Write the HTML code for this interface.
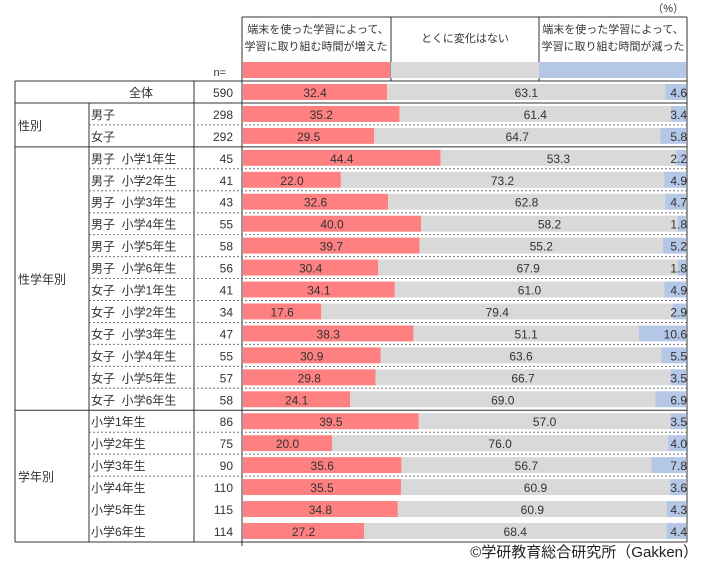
<!DOCTYPE html>
<html><head><meta charset="utf-8">
<style>
body{margin:0;background:#fff;}
svg{display:block;font-family:"Liberation Sans","Noto Sans CJK JP",sans-serif;}
</style></head>
<body>
<svg id="chart" width="719" height="572" viewBox="0 0 719 572" xmlns="http://www.w3.org/2000/svg">
<text x="684" y="12" font-size="11" fill="#333" text-anchor="end">（%）</text>
<g stroke="#333" fill="none">
<line x1="242" y1="17" x2="687" y2="17"/>
<line x1="242" y1="17" x2="242" y2="81"/>
<line x1="391" y1="17" x2="391" y2="81"/>
<line x1="539" y1="17" x2="539" y2="81"/>
<line x1="687" y1="17" x2="687" y2="542"/>
</g>
<rect x="243" y="62" width="147" height="16" fill="#ff8080"/>
<rect x="391" y="62" width="148" height="16" fill="#d9d9d9"/>
<rect x="539" y="62" width="147" height="16" fill="#b4c7e7"/>
<g font-size="11" fill="#333" text-anchor="middle">
<text x="318" y="33">端末を使った学習によって、</text>
<text x="316" y="50">学習に取り組む時間が増えた</text>
<text x="465" y="42">とくに変化はない</text>
<text x="613" y="33">端末を使った学習によって、</text>
<text x="613" y="50">学習に取り組む時間が減った</text>
</g>
<text x="226" y="76" font-size="11" fill="#333" text-anchor="end">n=</text>
<g id="rows"></g>
<text x="698" y="557" font-size="15" fill="#222" text-anchor="end">©学研教育総合研究所（Gakken）</text>
</svg>
<script>
const labels=["全体","男子","女子","男子  小学1年生","男子  小学2年生","男子  小学3年生","男子  小学4年生","男子  小学5年生","男子  小学6年生","女子  小学1年生","女子  小学2年生","女子  小学3年生","女子  小学4年生","女子  小学5年生","女子  小学6年生","小学1年生","小学2年生","小学3年生","小学4年生","小学5年生","小学6年生"];
const nValues=[590,298,292,45,41,43,55,58,56,41,34,47,55,57,58,86,75,90,110,115,114];
const increased=[32.4,35.2,29.5,44.4,22.0,32.6,40.0,39.7,30.4,34.1,17.6,38.3,30.9,29.8,24.1,39.5,20.0,35.6,35.5,34.8,27.2];
const noChange=[63.1,61.4,64.7,53.3,73.2,62.8,58.2,55.2,67.9,61.0,79.4,51.1,63.6,66.7,69.0,57.0,76.0,56.7,60.9,60.9,68.4];
const decreased=[4.6,3.4,5.8,2.2,4.9,4.7,1.8,5.2,1.8,4.9,2.9,10.6,5.5,3.5,6.9,3.5,4.0,7.8,3.6,4.3,4.4];
const groups=[{name:"",start:0,end:0},{name:"性別",start:1,end:2},{name:"性学年別",start:3,end:14},{name:"学年別",start:15,end:20}];
const NS="http://www.w3.org/2000/svg";
const g=document.getElementById('rows');
const top0=81,rowH=21.95,x0=242,x1=687;
const W=x1-x0;
function xs(v){return v/100*W;}
function yRow(i){return top0+i*rowH;}
function el(t,a){const e=document.createElementNS(NS,t);for(const k in a)e.setAttribute(k,a[k]);g.appendChild(e);return e;}
function txt(x,y,s,anchor,size){const e=el('text',{x:x,y:y,'font-size':size||11,fill:'#333','text-anchor':anchor||'start'});e.textContent=s;return e;}
for(let i=0;i<labels.length;i++){
  const y=yRow(i)+3,h=rowH-6;
  const wi=xs(increased[i]),wd=xs(decreased[i]);
  const r1=el('rect',{x:x0+1,y:y,width:wi,height:h,fill:'#ff8080'});
  
  
  const gx=x0+1+wi, gw=Math.max(0,x1-1-wd-gx);
  const r2=el('rect',{x:gx,y:y,width:gw,height:h,fill:'#d9d9d9'});
  
  
  const r3=el('rect',{x:x1-1-wd,y:y,width:wd,height:h,fill:'#b4c7e7'});
  
  
  const ty=y+h/2+5;
  const t1=txt(x0+1+wi/2,ty,increased[i].toFixed(1),'middle',12);
  
  
  const t2=txt(gx+gw/2,ty,noChange[i].toFixed(1),'middle',12);
  
  
  const t3=txt(x1,ty,decreased[i].toFixed(1),'end',12);
  
  
  const lb=txt(i===0?141:91,yRow(i)+rowH/2+5,labels[i],i===0?'middle':'start',12);
  
  
  lb.setAttribute('xml:space','preserve');
  lb.style.whiteSpace='pre';
  const nt=txt(233,yRow(i)+rowH/2+5,String(nValues[i]),'end',12);
  
  
}
const ln={stroke:'#333','stroke-width':1};
el('line',Object.assign({x1:15,y1:top0,x2:x1,y2:top0},ln));
el('line',Object.assign({x1:15,y1:yRow(21),x2:x1,y2:yRow(21)},ln));
el('line',Object.assign({x1:15,y1:top0,x2:15,y2:yRow(21)},ln));
el('line',Object.assign({x1:89,y1:yRow(1),x2:89,y2:yRow(21)},ln));
el('line',Object.assign({x1:194,y1:top0,x2:194,y2:yRow(21)},ln));
el('line',Object.assign({x1:x0,y1:top0,x2:x0,y2:yRow(21)+4},ln));
for(const gr of groups){
  if(gr.start>0){el('line',Object.assign({x1:15,y1:yRow(gr.start),x2:x1,y2:yRow(gr.start)},ln));}
  for(let i=gr.start+1;i<=gr.end;i++){
    if(gr.start===15 && i>18) continue;
    el('line',{x1:89,y1:yRow(i),x2:x1,y2:yRow(i),stroke:'#777','stroke-dasharray':'2,2'});
  }
  if(gr.name){
    const gl=txt(18,(yRow(gr.start)+yRow(gr.end+1))/2+5,gr.name,'start',12);
    
    
  }
}
</script>
</body></html>
